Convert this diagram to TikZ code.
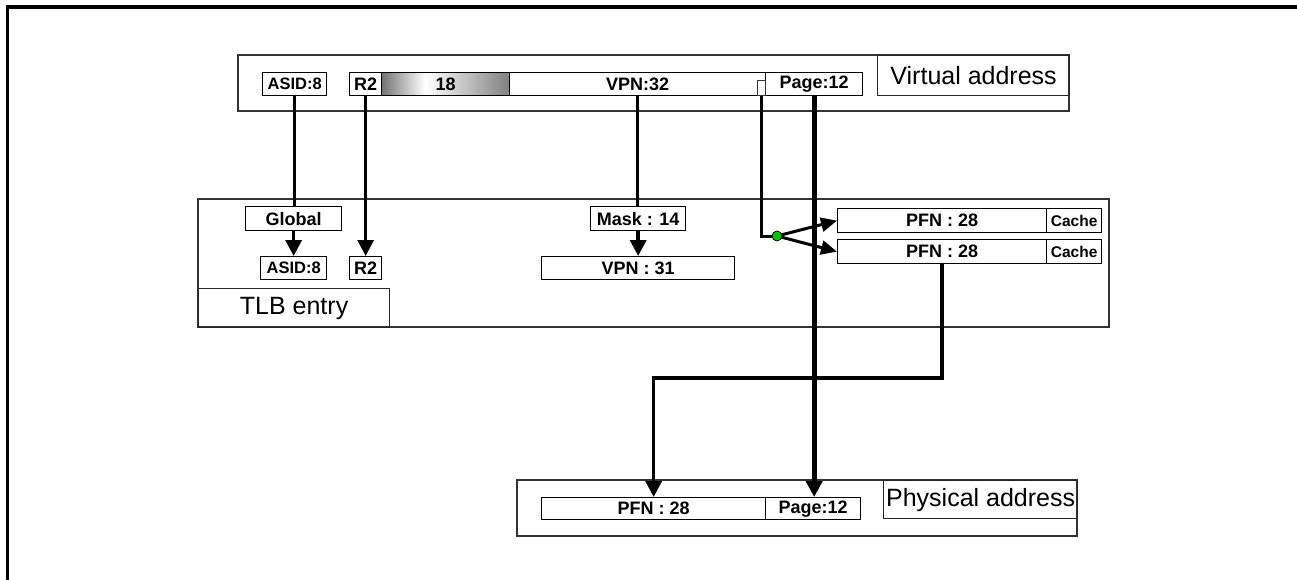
\documentclass[tikz,border=0pt]{standalone}
\usepackage{fontspec}
\setmainfont{Liberation Sans}
\usetikzlibrary{arrows.meta}
\definecolor{dotgreen}{RGB}{0,200,0}
\pgfdeclarehorizontalshading{fieldgrad}{100bp}{color(0bp)=(black!55); color(25bp)=(black!55); color(42bp)=(white); color(75bp)=(black!50); color(100bp)=(black!50)}
\tikzset{
  frame/.style={draw=black!80, line width=1.2pt},
  fld/.style={draw, line width=1.3pt, inner sep=0pt, anchor=north west,
    font=\bfseries\fontsize{18}{18}\selectfont},
  small/.style={fld, font=\bfseries\fontsize{16.5}{17}\selectfont},
  tiny/.style={fld, font=\bfseries\fontsize{15.5}{16}\selectfont},
  lbl/.style={draw=black!85, line width=1.2pt, inner sep=0pt, anchor=north west,
    font=\fontsize{25}{26}\selectfont},
  wire/.style={line width=3.5pt},
  bus/.style={line width=5pt},
  tip/.style={-{Triangle[length=16pt,width=16pt]}},
  smalltip/.style={-{Triangle[length=16pt,width=14pt]}},
}
\begin{document}
\begin{tikzpicture}[x=1pt,y=-1pt]
\useasboundingbox (0,0) rectangle (1297,580);
% page frame
\draw[line width=3pt] (7.5,580) -- (7.5,7);
\draw[line width=4pt] (6,7) -- (1297,7);

% ---- virtual address ----
\draw[frame] (238,55) rectangle (1069,111);
\node[lbl, minimum width=192, minimum height=40] (vlabel) at (877,55) {Virtual address};
\node[small, minimum width=64, minimum height=23] (vasid) at (262,72) {ASID:8};
\node[fld, minimum width=32, minimum height=23] (vr2) at (349,72) {R2};
\node[fld, minimum width=128, minimum height=23, shading=fieldgrad] (v18) at (381,72) {18};
\node[fld, minimum width=256, minimum height=23] (vvpn) at (509,72) {VPN:32};
\node[fld, minimum width=97, minimum height=23] (vpage) at (765,72) {Page:12};
\node[draw=black!80, line width=0.8pt, inner sep=0pt, anchor=north west,
  minimum width=8, minimum height=15] (vbit) at (757,80) {};

% ---- TLB entry ----
\draw[frame] (198,199) rectangle (1109,327);
\node[lbl, minimum width=191, minimum height=39] (tlabel) at (198,288) {TLB entry};
\node[fld, minimum width=96, minimum height=24] (glob) at (245,206) {Global};
\node[small, minimum width=66, minimum height=23] (tasid) at (260,256) {ASID:8};
\node[fld, minimum width=32, minimum height=23] (tr2) at (349,256) {R2};
\node[fld, minimum width=95, minimum height=24] (mask) at (590,206) {Mask : 14};
\node[fld, minimum width=193, minimum height=23] (tvpn) at (541,256) {VPN : 31};
\node[fld, minimum width=209, minimum height=24] (pfn1) at (837,208) {PFN : 28};
\node[tiny, minimum width=55, minimum height=24] (c1) at (1046,208) {Cache};
\node[fld, minimum width=209, minimum height=24] (pfn2) at (837,239) {PFN : 28};
\node[tiny, minimum width=55, minimum height=24] (c2) at (1046,239) {Cache};

% ---- physical address ----
\draw[frame] (517,480) rectangle (1077,536);
\node[lbl, minimum width=194, minimum height=38] (plabel) at (883,480) {Physical address};
\node[fld, minimum width=224, minimum height=22] (ppfn) at (541,497) {PFN : 28};
\node[fld, minimum width=95, minimum height=22] (ppage) at (765,497) {Page:12};

% ---- connections ----
\draw[wire] (vasid.south) -- (vasid.south |- glob.north);
\draw[wire, tip] (glob.south) -- (glob.south |- tasid.north);
\draw[line width=3pt, tip] (vr2.south) -- (tr2.north);
\draw[wire] (vvpn.south) -- (vvpn.south |- mask.north);
\draw[wire, tip] (mask.south) -- (mask.south |- tvpn.north);
\coordinate (split) at (777,236);
\draw[line width=3pt] (vbit.south) |- (split);
\draw[line width=3pt, smalltip] (split) -- (pfn1.west);
\draw[line width=3pt, smalltip] (split) -- (pfn2.west);
\node[circle, draw, fill=dotgreen, line width=0.7pt, inner sep=0pt,
  minimum size=10] (dot) at (split) {};
\coordinate (turn) at (800,378);
\draw[wire, tip, line join=miter] (pfn2.south) |- (turn) -| (ppfn.north);
\draw[bus, tip] (vpage.south) -- (vpage.south |- ppage.north);
\end{tikzpicture}
\end{document}
